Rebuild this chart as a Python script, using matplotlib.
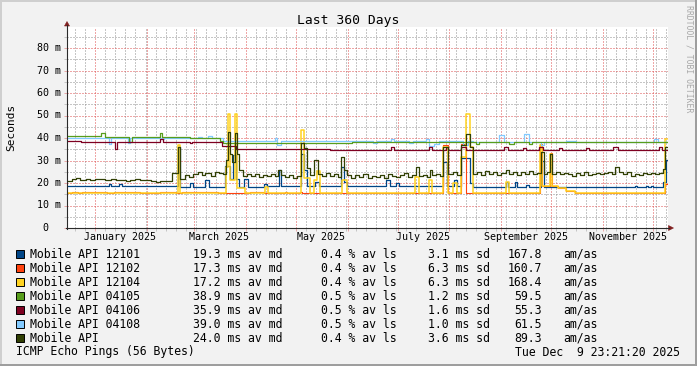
#!/usr/bin/env python3
"""
Redraw of a Smokeping multi-host latency graph ("Last 360 Days") in matplotlib.

Values were read off the original RRDtool picture; each host is a step series
given as breakpoints (days after the graph start) and median RTT in ms.
"""

from datetime import datetime, timedelta

import matplotlib
matplotlib.use("Agg")
import matplotlib.pyplot as plt
import matplotlib.dates as mdates
from matplotlib.lines import Line2D
from matplotlib.patches import Polygon, Rectangle
from matplotlib.ticker import FixedLocator, MultipleLocator


W, H, DPI = 697, 366, 100

START = datetime(2024, 12, 14, 23, 21, 20)
END = datetime(2025, 12, 9, 23, 21, 20)

# ---- series data: breakpoints in days after START, values in ms ----------
DAYS_12101 = [0, 25.2, 26.4, 31.2, 33.0, 66.6, 67.8, 73.8, 75.6, 82.8, 85.2,
              94.8, 97.8, 99.6, 101.4, 103.2, 106.2, 108.6, 118.2, 120.0,
              127.2, 128.4, 140.4, 142.2, 144.0, 148.8, 151.2, 164.4, 166.2,
              168.0, 190.8, 193.2, 196.8, 198.6, 225.0, 227.4, 231.6, 233.4,
              235.8, 241.2, 243.0, 262.8, 264.0, 268.2, 269.4, 274.8, 276.6,
              283.8, 285.6, 340.2, 341.4, 346.8, 348.0, 349.8, 351.0, 357.0,
              358.8, 359.4]
MS_12101 = [18.7, 19.4, 18.7, 19.6, 18.7, 36.1, 18.4, 19.9, 18.4, 21.4, 18.4,
            27.6, 22.0, 32.4, 22.0, 18.4, 22.0, 18.4, 19.6, 18.6,
            26.0, 18.7, 33.0, 26.0, 18.7, 20.6, 18.7, 27.0, 20.5,
            18.7, 21.5, 18.6, 19.8, 18.6, 29.4, 18.6, 21.5, 18.6,
            31.0, 20.0, 18.2, 20.5, 18.2, 20.5, 18.2, 19.2, 18.2,
            30.0, 18.2, 18.8, 18.2, 18.8, 18.2, 18.8, 18.2, 20.3,
            30.2, 30.2]

DAYS_12102 = [0, 3.0, 6.6, 9.0, 24.0, 28.2, 43.8, 55.8, 65.4, 69.0, 90.6,
              109.8, 118.2, 130.8, 132.0, 139.8, 141.0, 225.0, 228.0, 235.8,
              238.8, 283.2, 284.4, 289.2, 290.4, 294.0, 298.8, 304.2, 358.2,
              359.4]
MS_12102 = [15.4, 16.0, 15.4, 16.0, 15.4, 16.0, 15.4, 16.0, 15.4, 16.0, 15.4,
            16.0, 15.4, 16.0, 15.4, 16.0, 15.4, 36.8, 15.4, 37.5,
            15.4, 37.5, 18.7, 33.5, 18.7, 17.6, 16.6, 15.4, 19.5,
            19.5]

DAYS_12104 = [0, 66.6, 67.8, 95.4, 96.6, 97.8, 100.8, 102.0, 106.8, 118.8,
              120.6, 140.4, 142.2, 145.8, 148.2, 150.0, 151.8, 165.0, 168.0,
              208.2, 210.6, 216.6, 218.4, 225.0, 228.0, 231.0, 233.4, 235.8,
              238.8, 241.2, 243.0, 262.8, 264.6, 283.2, 284.4, 289.2, 290.4,
              294.0, 298.8, 304.2, 358.2, 359.4]
MS_12104 = [15.4, 36.9, 15.4, 27.0, 50.7, 21.3, 50.7, 17.8, 15.4, 18.1,
            15.4, 43.6, 22.1, 15.4, 21.3, 25.5, 15.4, 21.3, 15.4,
            22.8, 15.4, 21.3, 15.4, 36.1, 15.4, 20.0, 15.4, 31.7,
            50.7, 36.0, 15.4, 20.6, 15.4, 36.9, 18.7, 33.0, 18.7,
            17.6, 16.6, 15.4, 39.5, 39.5]

DAYS_04105 = [0, 20.4, 22.8, 37.2, 39.0, 55.8, 57.0, 73.8, 91.8, 93.6,
              171.0, 244.8, 246.6, 264.6, 267.6, 276.6, 278.4, 359.4]
MS_04105 = [40.9, 42.4, 40.6, 38.3, 40.6, 42.1, 40.4, 39.8, 38.5, 37.8,
            38.2, 37.4, 38.2, 37.4, 38.2, 37.4, 38.2, 38.2]

DAYS_04106 = [0, 8.4, 28.8, 30.0, 55.8, 57.6, 73.8, 75.0, 93.0, 101.4,
              157.8, 193.8, 195.6, 216.6, 218.4, 226.8, 228.0, 235.8, 238.8,
              261.6, 264.0, 273.0, 274.8, 282.6, 285.0, 294.6, 296.4, 310.8,
              312.6, 327.0, 330.0, 354.6, 356.4, 359.4]
MS_04106 = [38.5, 38.1, 35.3, 38.3, 39.6, 38.3, 37.6, 38.3, 36.5, 35.2,
            34.6, 36.1, 34.6, 36.1, 34.6, 36.1, 34.6, 36.1, 34.6,
            36.1, 34.6, 35.6, 34.6, 36.1, 34.6, 35.6, 34.6, 35.6,
            34.8, 36.1, 34.8, 36.1, 34.8, 34.8]

DAYS_04108 = [0, 25.2, 26.4, 36.6, 37.8, 57.0, 58.2, 78.6, 81.0, 84.6, 87.0,
              93.6, 124.8, 126.0, 128.4, 183.0, 185.4, 193.8, 195.6, 204.6,
              207.0, 214.8, 216.6, 219.6, 222.6, 237.0, 240.0, 243.0, 258.6,
              261.6, 273.6, 276.6, 283.8, 285.6, 298.8, 304.8, 351.6, 354.0,
              359.4]
MS_04108 = [40.1, 37.3, 40.1, 38.0, 40.1, 39.6, 40.1, 40.5, 40.1, 40.9, 40.1,
            38.8, 39.8, 36.9, 38.8, 37.6, 38.8, 39.6, 38.8, 37.6,
            38.8, 39.6, 36.4, 37.4, 38.8, 37.0, 38.8, 38.2, 41.2,
            38.2, 41.6, 38.2, 36.9, 38.2, 38.6, 38.2, 39.6, 38.2,
            38.2]

DAYS_ALL = [0, 3.0, 5.4, 7.8, 11.4, 13.8, 16.8, 20.4, 22.8, 26.4, 29.4, 32.4,
            35.4, 37.8, 40.8, 43.8, 47.4, 50.4, 53.4, 55.8, 58.8, 60.6, 63.0,
            66.6, 67.8, 70.8, 73.2, 75.6, 78.6, 81.0, 82.8, 86.4, 88.8, 91.2,
            93.6, 95.4, 96.6, 97.8, 99.0, 100.8, 102.0, 103.2, 105.6, 108.0,
            110.4, 112.8, 115.2, 117.6, 120.0, 122.4, 124.8, 126.6, 128.4,
            130.8, 133.2, 135.6, 138.0, 140.4, 142.2, 144.0, 145.8, 148.2,
            150.6, 153.0, 155.4, 157.8, 160.2, 162.6, 164.4, 166.2, 168.0,
            170.4, 172.8, 175.2, 177.6, 180.0, 182.4, 184.8, 187.2, 189.6,
            192.0, 194.4, 196.8, 199.2, 201.6, 204.0, 206.4, 208.8, 210.6,
            213.0, 215.4, 217.2, 218.4, 220.8, 223.2, 225.0, 228.0, 231.0,
            233.4, 235.8, 238.8, 241.2, 243.0, 245.4, 247.8, 250.2, 252.6,
            255.0, 257.4, 259.8, 262.8, 264.6, 267.0, 269.4, 271.8, 274.2,
            276.6, 279.0, 281.4, 283.8, 285.6, 287.4, 289.2, 290.4, 292.8,
            295.2, 297.6, 300.0, 302.4, 304.8, 307.2, 309.6, 312.0, 314.4,
            316.8, 319.2, 321.6, 324.0, 326.4, 328.2, 330.6, 333.0, 335.4,
            337.8, 340.2, 342.6, 345.0, 347.4, 349.8, 352.2, 354.6, 357.0,
            358.2, 359.4]
MS_ALL = [21.0, 21.6, 22.3, 21.5, 21.9, 21.2, 21.6, 21.9, 21.3, 21.6, 21.2, 21.5,
          21.0, 21.4, 21.7, 21.2, 21.5, 21.0, 20.6, 21.1, 20.8, 21.0, 24.6,
          36.1, 21.6, 23.7, 22.6, 24.0, 25.0, 23.6, 24.6, 23.2, 25.0, 24.6,
          24.0, 30.2, 42.8, 33.0, 29.5, 42.4, 33.0, 25.8, 23.3, 24.2,
          23.0, 23.8, 22.7, 23.6, 23.2, 24.0, 23.3, 25.8, 23.5,
          22.5, 23.6, 22.4, 23.2, 37.6, 35.4, 26.5, 23.5, 30.2,
          24.0, 23.2, 24.3, 23.0, 23.8, 22.6, 31.7, 25.8, 23.4,
          22.4, 23.5, 22.6, 23.8, 22.3, 23.2, 22.5, 23.6, 22.4,
          24.2, 23.0, 22.7, 23.6, 24.5, 22.8, 23.4, 27.2, 23.0,
          23.6, 22.8, 26.0, 23.4, 24.0, 23.0, 36.1, 23.8, 25.0,
          23.5, 36.9, 42.0, 36.0, 23.8, 24.8, 23.6, 25.2, 24.0,
          24.8, 23.4, 24.6, 25.8, 24.0, 24.8, 23.6, 25.0, 24.2,
          25.4, 23.8, 24.6, 33.9, 24.2, 24.8, 33.0, 24.0, 25.0,
          23.8, 24.6, 24.0, 23.2, 24.5, 23.6, 24.8, 23.4, 24.0,
          24.6, 23.8, 24.4, 25.0, 24.2, 27.0, 25.0, 24.0, 24.8,
          23.2, 24.2, 23.6, 24.4, 24.0, 24.6, 23.8, 24.4, 26.2,
          36.0, 36.0]

# ---- legend table ---------------------------------------------------------
NAMES = ["Mobile API 12101", "Mobile API 12102", "Mobile API 12104",
         "Mobile API 04105", "Mobile API 04106", "Mobile API 04108",
         "Mobile API"]
COLORS = ["#004586", "#ff420e", "#ffd320", "#579d1c", "#7e0021", "#83caff",
          "#314004"]
AV_MD = [19.3, 17.3, 17.2, 38.9, 35.9, 39.0, 24.0]
AV_LS = [0.4, 0.4, 0.4, 0.5, 0.5, 0.5, 0.4]
SD = [3.1, 6.3, 6.3, 1.2, 1.6, 1.0, 3.6]
AM_AS = [167.8, 160.7, 168.4, 59.5, 55.3, 61.5, 89.3]

# ---- axis labels ----------------------------------------------------------
Y_TICKS = [0, 10, 20, 30, 40, 50, 60, 70, 80]
Y_LABELS = ["0", "10 m", "20 m", "30 m", "40 m", "50 m", "60 m", "70 m", "80 m"]
X_LABEL_DATES = [datetime(2025, 1, 16), datetime(2025, 3, 16),
                 datetime(2025, 5, 16), datetime(2025, 7, 16),
                 datetime(2025, 9, 16), datetime(2025, 11, 16)]
X_LABELS = ["January 2025", "March 2025", "May 2025", "July 2025",
            "September 2025", "November 2025"]

# rrdtool default colours
BACK = "#f2f2f2"
SHADE_A = "#cfcfcf"
SHADE_B = "#9e9e9e"
GRID = (0.56, 0.56, 0.56, 0.45)
MGRID = (0.87, 0.31, 0.31, 0.45)
ARROW = "#801f1f"
AXIS = "#2a2a2a"

FS_AXIS, FS_LEGEND, FS_TITLE = 7.2, 8.3, 9.4


def fxy(x, y):
    """Figure-fraction coords from picture pixels (origin top-left)."""
    return x / W, 1 - y / H


def to_dates(days):
    return [START + timedelta(days=d) for d in days]


def main() -> None:
    plt.rcParams["font.family"] = ["DejaVu Sans Mono", "DejaVu Sans"]
    fig = plt.figure(figsize=(W / DPI, H / DPI), dpi=DPI, facecolor=BACK)

    ax = fig.add_axes([67 / W, 1 - 228 / H, 601 / W, 201 / H])
    ax.set_facecolor("white")
    for sp in ax.spines.values():
        sp.set_visible(False)
    ax.set_xlim(START, END)
    ax.set_ylim(0, 201 / 2.25)

    # grid: minor every 5 ms / 6 days, major every 10 ms / month
    ax.yaxis.set_major_locator(MultipleLocator(10))
    ax.yaxis.set_minor_locator(MultipleLocator(5))
    ax.xaxis.set_major_locator(mdates.MonthLocator())
    first = datetime(2024, 12, 14)
    minor = [first + timedelta(days=6 * k) for k in range(1, 61)]
    ax.xaxis.set_minor_locator(FixedLocator(mdates.date2num(minor)))
    ax.set_axisbelow(True)
    ax.grid(which="minor", color=GRID, lw=0.72, ls=(0, (1, 2)))
    ax.grid(which="major", color=MGRID, lw=0.72, ls=(0, (1, 2)))
    ax.tick_params(which="both", labelleft=False, labelbottom=False,
                   direction="out", length=2, width=0.72)
    ax.tick_params(which="major", color=MGRID)
    ax.tick_params(which="minor", color=GRID)

    # (days, ms, zorder, linewidth) in legend order
    series = [
        (DAYS_12101, MS_12101, 2.0, 0.9),
        (DAYS_12102, MS_12102, 2.1, 0.8),
        (DAYS_12104, MS_12104, 2.2, 1.1),
        (DAYS_04105, MS_04105, 2.4, 0.9),
        (DAYS_04106, MS_04106, 2.5, 0.9),
        (DAYS_04108, MS_04108, 2.3, 0.9),
        (DAYS_ALL, MS_ALL, 2.6, 0.9),
    ]
    for (days, ms, z, lw), color in zip(series, COLORS):
        ax.step(to_dates(days), ms, where="post", color=color, lw=lw, zorder=z)

    # tick labels (rrdtool style: "80 m", zero without unit)
    char_w = 0.602 * FS_AXIS * DPI / 72
    for v, lbl in zip(Y_TICKS, Y_LABELS):
        xr = 60.7 if lbl.endswith("m") else 60.7 - 2 * char_w
        ax.annotate(lbl, xy=(xr, v), xycoords=("figure pixels", "data"),
                    ha="right", va="center", fontsize=FS_AXIS,
                    annotation_clip=False)
    for d, lbl in zip(X_LABEL_DATES, X_LABELS):
        ax.annotate(lbl, xy=(d, H - 240.5), xycoords=("data", "figure pixels"),
                    ha="center", va="baseline", fontsize=FS_AXIS,
                    annotation_clip=False)

    # axes with arrows
    fig.add_artist(Line2D([67 / W, 67 / W], [1 - 229 / H, 1 - 25 / H],
                          color=AXIS, lw=0.8, transform=fig.transFigure))
    fig.add_artist(Line2D([66 / W, 669 / W], [1 - 228 / H, 1 - 228 / H],
                          color=AXIS, lw=0.8, transform=fig.transFigure))
    fig.add_artist(Polygon([fxy(64.5, 26), fxy(69.5, 26), fxy(67, 21.5)],
                           closed=True, fc=ARROW, ec=ARROW, lw=0.4,
                           transform=fig.transFigure))
    fig.add_artist(Polygon([fxy(668.5, 225.5), fxy(668.5, 230.5), fxy(673.5, 228)],
                           closed=True, fc=ARROW, ec=ARROW, lw=0.4,
                           transform=fig.transFigure))

    # titles
    fig.text(*fxy(348.5, 24), "Last 360 Days", ha="center", va="baseline",
             fontsize=FS_TITLE)
    fig.text(*fxy(11, 127.5), "Seconds", rotation=90, ha="center", va="center",
             fontsize=8.0)
    fig.text(*fxy(688.5, 5), "RRDTOOL / TOBI OETIKER", rotation=-90,
             ha="center", va="top", fontsize=5.9, color="#a8a8a8")

    # legend table
    for i, name in enumerate(NAMES):
        yb = 257.5 + 14 * i
        x0, y0 = fxy(15.5, 250 + 14 * i + 8)
        fig.add_artist(Rectangle((x0, y0), 8 / W, 8 / H, fc=COLORS[i],
                                 ec="black", lw=0.7, transform=fig.transFigure))
        fig.text(*fxy(30, yb), name, va="baseline", fontsize=FS_LEGEND)
        fig.text(*fxy(193, yb), f"{AV_MD[i]:.1f} ms av md", va="baseline",
                 fontsize=FS_LEGEND)
        fig.text(*fxy(321, yb), f"{AV_LS[i]:.1f} % av ls", va="baseline",
                 fontsize=FS_LEGEND)
        fig.text(*fxy(428, yb), f"{SD[i]:.1f} ms sd", va="baseline",
                 fontsize=FS_LEGEND)
        fig.text(*fxy(542, yb), f"{AM_AS[i]:.1f}", ha="right", va="baseline",
                 fontsize=FS_LEGEND)
        fig.text(*fxy(563, yb), "am/as", va="baseline", fontsize=FS_LEGEND)

    fig.text(*fxy(16, 355.5), "ICMP Echo Pings (56 Bytes)", va="baseline",
             fontsize=FS_LEGEND)
    fig.text(*fxy(680, 355.5), "Tue Dec  9 23:21:20 2025", ha="right",
             va="baseline", fontsize=FS_LEGEND)

    # 3-d frame
    for (x, y, w, h), c in [((0, 1 - 2 / H, 1, 2 / H), SHADE_A),
                            ((0, 0, 2 / W, 1), SHADE_A),
                            ((0, 0, 1, 2 / H), SHADE_B),
                            ((1 - 2 / W, 0, 2 / W, 1), SHADE_B)]:
        fig.add_artist(Rectangle((x, y), w, h, fc=c, ec="none",
                                 transform=fig.transFigure))

    fig.savefig("out.png", dpi=DPI, facecolor=fig.get_facecolor())
    plt.close(fig)


if __name__ == "__main__":
    main()
